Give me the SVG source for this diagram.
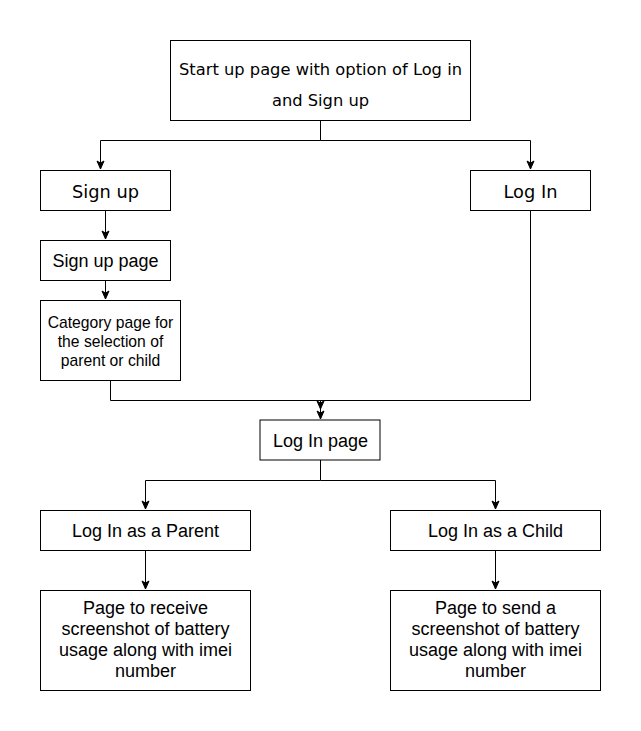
<svg xmlns="http://www.w3.org/2000/svg" width="641" height="731" viewBox="0 0 641 731">
<style>
.box{fill:#fff;stroke:#000;stroke-width:1}
.v{font-family:"DejaVu Sans",Verdana,sans-serif;font-size:16.3px;fill:#000;text-anchor:middle}
.v2{font-size:17.8px}
.a{font-family:"Liberation Sans",Arial,sans-serif;font-size:18px;fill:#000;text-anchor:middle}
.s{font-size:15.7px}
.ln{fill:none;stroke:#000;stroke-width:1}
</style>
<defs>
<marker id="arr" viewBox="0 0 10 10" refX="9" refY="5" markerWidth="10" markerHeight="10" markerUnits="userSpaceOnUse" orient="auto">
<path d="M1,1.5 L9,5 L1,8.5 L3,5 Z" fill="#000" stroke="#000" stroke-width="1"/>
</marker>
</defs>
<rect width="641" height="731" fill="#fff"/>
<g id="connectors">
<path class="ln" d="M320.5,120 V140.5 H100.5 V169" marker-end="url(#arr)"/>
<path class="ln" d="M320.5,140.5 H530.5 V169" marker-end="url(#arr)"/>
<path class="ln" d="M105.5,210 V239" marker-end="url(#arr)"/>
<path class="ln" d="M105.5,280 V299" marker-end="url(#arr)"/>
<path class="ln" d="M110.5,380 V400.5 H320.5 V409" marker-end="url(#arr)"/>
<path class="ln" d="M530.5,210 V400.5 H320.5 V419" marker-end="url(#arr)"/>
<path class="ln" d="M320.5,460 V480.5 H145.5 V509" marker-end="url(#arr)"/>
<path class="ln" d="M320.5,480.5 H495.5 V509" marker-end="url(#arr)"/>
<path class="ln" d="M145.5,550 V589" marker-end="url(#arr)"/>
<path class="ln" d="M495.5,550 V589" marker-end="url(#arr)"/>
</g>
<g id="start">
<rect class="box" x="170.5" y="40.5" width="300" height="80"/>
<text class="v" x="320.5" y="75">Start up page with option of Log in</text>
<text class="v" x="320.5" y="106">and Sign up</text>
</g>
<g id="signup">
<rect class="box" x="40.5" y="170.5" width="130" height="40"/>
<text class="v v2" x="105.5" y="198">Sign up</text>
</g>
<g id="login">
<rect class="box" x="470.5" y="170.5" width="120" height="40"/>
<text class="v v2" x="530.5" y="198">Log In</text>
</g>
<g id="signuppage">
<rect class="box" x="40.5" y="240.5" width="130" height="40"/>
<text class="a" x="105.5" y="267">Sign up page</text>
</g>
<g id="category">
<rect class="box" x="40.5" y="300.5" width="140" height="80"/>
<text class="a s" x="110.5" y="327.5">Category page for</text>
<text class="a s" x="110.5" y="346.5">the selection of</text>
<text class="a s" x="110.5" y="365.5">parent or child</text>
</g>
<g id="loginpage">
<rect class="box" x="260" y="420" width="120" height="40"/>
<text class="a" x="320.5" y="447">Log In page</text>
</g>
<g id="parent">
<rect class="box" x="40.5" y="510.5" width="210" height="40"/>
<text class="a" x="145.5" y="537">Log In as a Parent</text>
</g>
<g id="child">
<rect class="box" x="390.5" y="510.5" width="210" height="40"/>
<text class="a" x="495.5" y="537">Log In as a Child</text>
</g>
<g id="receive">
<rect class="box" x="40.5" y="590.5" width="210" height="100"/>
<text class="a" x="145.5" y="613.5">Page to receive</text>
<text class="a" x="145.5" y="634.5">screenshot of battery</text>
<text class="a" x="145.5" y="656">usage along with imei</text>
<text class="a" x="145.5" y="677">number</text>
</g>
<g id="send">
<rect class="box" x="390.5" y="590.5" width="210" height="100"/>
<text class="a" x="495.5" y="613.5">Page to send a</text>
<text class="a" x="495.5" y="634.5">screenshot of battery</text>
<text class="a" x="495.5" y="656">usage along with imei</text>
<text class="a" x="495.5" y="677">number</text>
</g>
</svg>
